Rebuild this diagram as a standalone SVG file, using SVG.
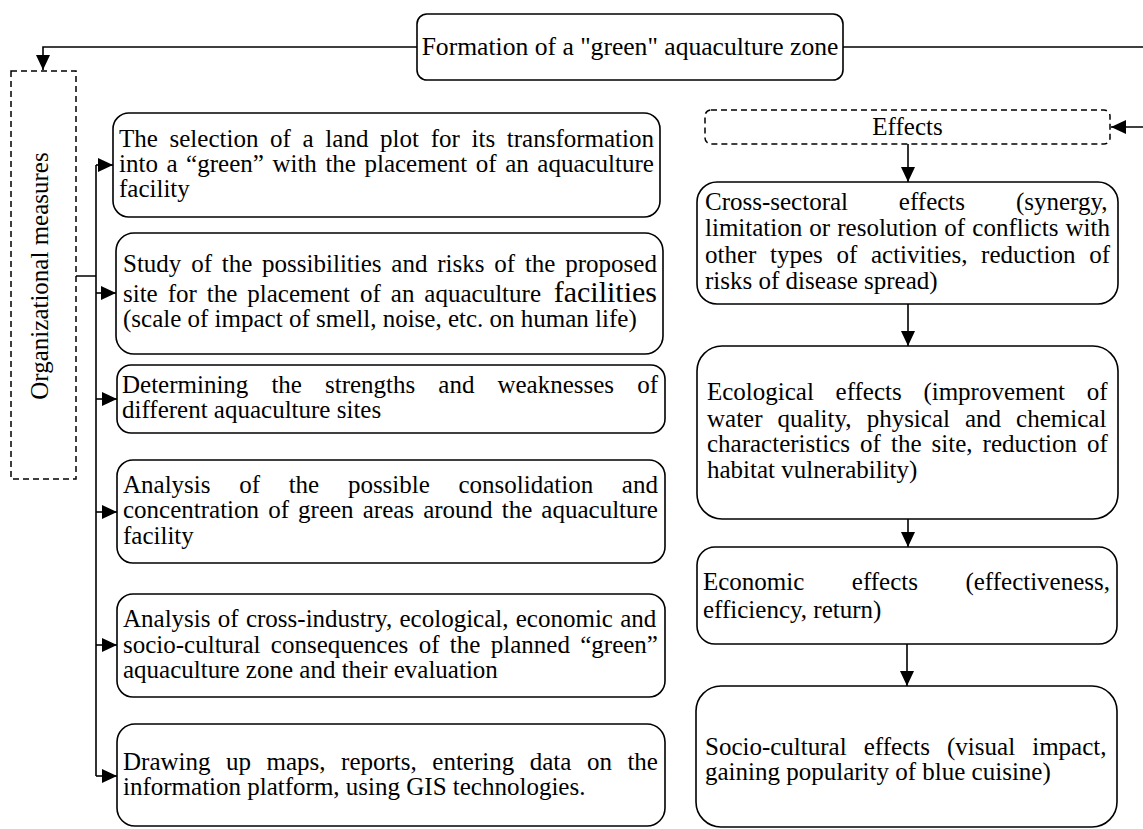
<svg xmlns="http://www.w3.org/2000/svg" width="1143" height="829" viewBox="0 0 1143 829">
<defs>
<style>
.box{fill:#fff;stroke:#000;stroke-width:1.6}
.dash{fill:#fff;stroke:#000;stroke-width:1.5;stroke-dasharray:6 4}
.t{font-family:"Liberation Serif","Times New Roman",serif;font-size:25px;fill:#000}
.c{fill:none;stroke:#000;stroke-width:1.6}
</style>
<marker id="ah" markerWidth="15" markerHeight="14" refX="15" refY="7" orient="auto" markerUnits="userSpaceOnUse">
<path d="M0,0 L15,7 L0,14 Z" fill="#000"/>
</marker>
</defs>
<rect width="1143" height="829" fill="#fff"/>

<g id="connectors">
<path class="c" d="M417,47 H43 V70" marker-end="url(#ah)"/>
<path class="c" d="M843,47 H1147 V127 H1111" marker-end="url(#ah)"/>
<path class="c" d="M908,144 V182" marker-end="url(#ah)"/>
<path class="c" d="M908,304 V346" marker-end="url(#ah)"/>
<path class="c" d="M908,519 V547" marker-end="url(#ah)"/>
<path class="c" d="M907,644 V686" marker-end="url(#ah)"/>
<path class="c" d="M76,276 H96 M96,165 V776"/>
<path class="c" d="M96,165 H113" marker-end="url(#ah)"/>
<path class="c" d="M96,293 H116" marker-end="url(#ah)"/>
<path class="c" d="M96,399 H117" marker-end="url(#ah)"/>
<path class="c" d="M96,512 H117" marker-end="url(#ah)"/>
<path class="c" d="M96,645 H117" marker-end="url(#ah)"/>
<path class="c" d="M96,776 H117" marker-end="url(#ah)"/>
</g>

<g id="formation">
<rect class="box" x="417" y="14" width="426" height="66" rx="10"/>
<text class="t" x="630" y="55" text-anchor="middle" style="font-size:25.6px">Formation of a "green" aquaculture zone</text>
</g>

<g id="organizational">
<rect class="dash" x="11" y="71" width="65" height="408"/>
<text class="t" transform="translate(48,276) rotate(-90)" text-anchor="middle">Organizational measures</text>
</g>

<g id="effects">
<rect class="dash" x="705" y="110" width="405" height="34" rx="6"/>
<text class="t" x="907.5" y="135" text-anchor="middle">Effects</text>
</g>

<g id="l1">
<rect class="box" x="113" y="113" width="547" height="104" rx="16"/>
<text class="t" x="119" y="147" style="word-spacing:5.43px">The selection of a land plot for its transformation</text>
<text class="t" x="119" y="172" style="word-spacing:2.31px">into a “green” with the placement of an aquaculture</text>
<text class="t" x="119" y="197">facility</text>
</g>

<g id="l2">
<rect class="box" x="116" y="233" width="547" height="121" rx="18"/>
<text class="t" x="123" y="272" style="word-spacing:3.55px">Study of the possibilities and risks of the proposed</text>
<text class="t" x="123" y="302" style="word-spacing:3.72px">site for the placement of an aquaculture <tspan x="657" text-anchor="end" style="font-size:30px">facilities</tspan></text>
<text class="t" x="123" y="327">(scale of impact of smell, noise, etc. on human life)</text>
</g>

<g id="l3">
<rect class="box" x="117" y="365" width="548" height="68" rx="14"/>
<text class="t" x="122" y="393" style="word-spacing:16.8px">Determining the strengths and weaknesses of</text>
<text class="t" x="122" y="418">different aquaculture sites</text>
</g>

<g id="l4">
<rect class="box" x="117" y="460" width="548" height="103" rx="16"/>
<text class="t" x="123" y="493" style="word-spacing:22.42px">Analysis of the possible consolidation and</text>
<text class="t" x="123" y="518" style="word-spacing:2.86px">concentration of green areas around the aquaculture</text>
<text class="t" x="123" y="544">facility</text>
</g>

<g id="l5">
<rect class="box" x="117" y="594" width="548" height="103" rx="16"/>
<text class="t" x="123" y="627" style="word-spacing:1.05px">Analysis of cross-industry, ecological, economic and</text>
<text class="t" x="123" y="653" style="word-spacing:4.12px">socio-cultural consequences of the planned “green”</text>
<text class="t" x="123" y="678">aquaculture zone and their evaluation</text>
</g>

<g id="l6">
<rect class="box" x="117" y="724" width="548" height="102" rx="18"/>
<text class="t" x="123" y="770" style="word-spacing:9.28px">Drawing up maps, reports, entering data on the</text>
<text class="t" x="123" y="795">information platform, using GIS technologies.</text>
</g>

<g id="r1">
<rect class="box" x="697" y="182" width="421" height="122" rx="20"/>
<text class="t" x="705" y="210" style="word-spacing:44.6px">Cross-sectoral effects (synergy,</text>
<text class="t" x="705" y="236" style="word-spacing:0.86px">limitation or resolution of conflicts with</text>
<text class="t" x="705" y="263" style="word-spacing:7.41px">other types of activities, reduction of</text>
<text class="t" x="705" y="289">risks of disease spread)</text>
</g>

<g id="r2">
<rect class="box" x="697" y="346" width="421" height="173" rx="25"/>
<text class="t" x="707" y="400" style="word-spacing:15.42px">Ecological effects (improvement of</text>
<text class="t" x="707" y="427" style="word-spacing:8.78px">water quality, physical and chemical</text>
<text class="t" x="707" y="452" style="word-spacing:3.83px">characteristics of the site, reduction of</text>
<text class="t" x="707" y="478">habitat vulnerability)</text>
</g>

<g id="r3">
<rect class="box" x="697" y="547" width="420" height="97" rx="18"/>
<text class="t" x="703" y="590" style="word-spacing:41.2px">Economic effects (effectiveness,</text>
<text class="t" x="703" y="618">efficiency, return)</text>
</g>

<g id="r4">
<rect class="box" x="696" y="686" width="421" height="141" rx="25"/>
<text class="t" x="705" y="755" style="word-spacing:10.88px">Socio-cultural effects (visual impact,</text>
<text class="t" x="705" y="780">gaining popularity of blue cuisine)</text>
</g>
</svg>
